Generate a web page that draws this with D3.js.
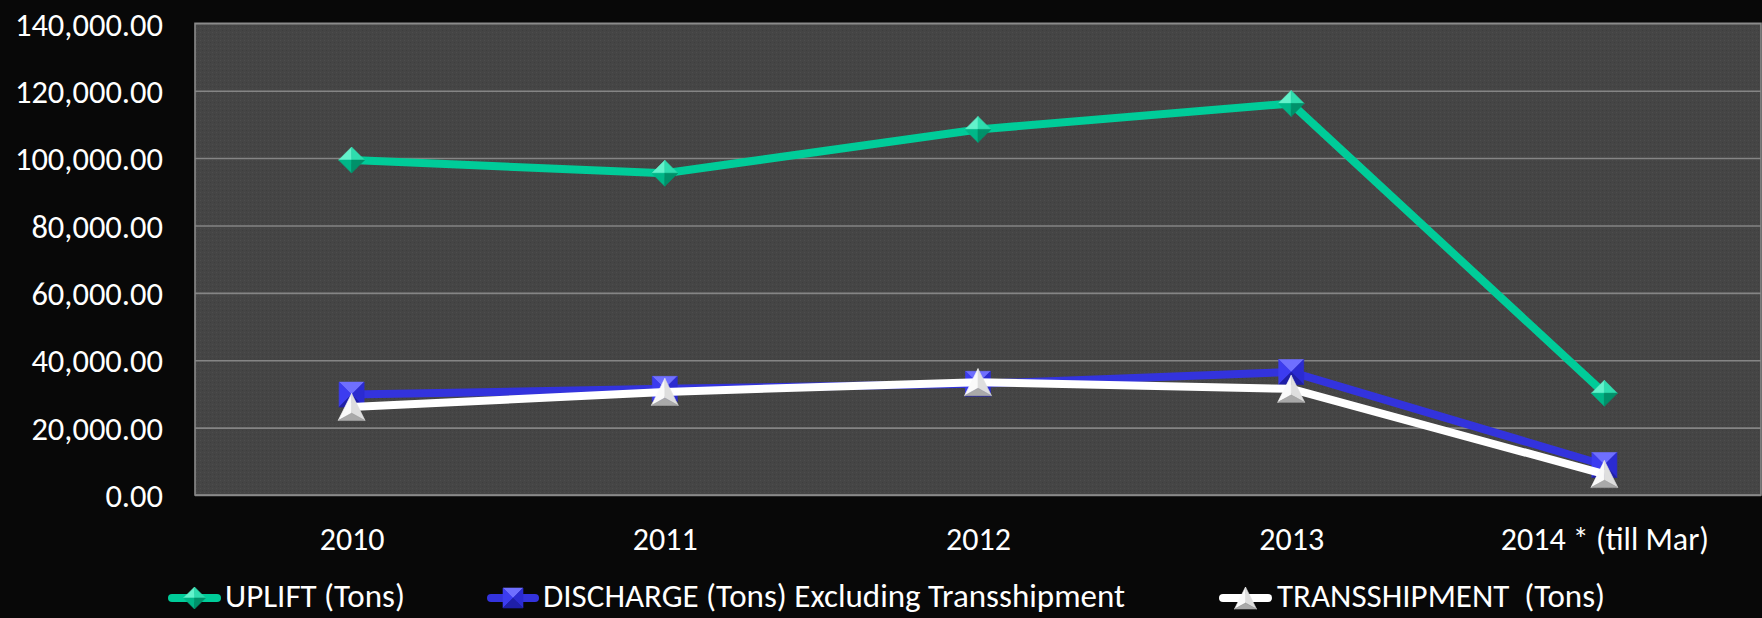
<!DOCTYPE html>
<html><head><meta charset="utf-8">
<script src="https://cdn.jsdelivr.net/npm/d3@7"></script>
<style>
html,body{margin:0;padding:0;background:#080808;}
svg{display:block;}
text{font-family:Carlito,Calibri,Lato,sans-serif;fill:#ffffff;}
</style></head>
<body><svg id="c" width="1762" height="618"></svg>
<script>
const categories = ["2010","2011","2012","2013","2014 * (till Mar)"];
const uplift = [99400, 95500, 108500, 116200, 30200];
const discharge = [29800, 31500, 33000, 36500, 8900];
const transshipment = [26100, 30600, 33500, 31500, 6200];
const yTicks = [0, 20000, 40000, 60000, 80000, 100000, 120000, 140000];
const seriesNames = ["UPLIFT (Tons)", "DISCHARGE (Tons) Excluding Transshipment", "TRANSSHIPMENT  (Tons)"];

const W = 1762, H = 618;
const plot = {left: 195, right: 1761, top: 23.3, bottom: 495};
const svg = d3.select("#c");
svg.append("rect").attr("width", W).attr("height", H).attr("fill", "#080808");

const defs = svg.append("defs");
const pat = defs.append("pattern").attr("id","dots").attr("width",4).attr("height",4).attr("patternUnits","userSpaceOnUse");
pat.append("rect").attr("width",4).attr("height",4).attr("fill","#454545");
pat.append("rect").attr("x",0).attr("y",0).attr("width",1).attr("height",1).attr("fill","#4d4d4d");
pat.append("rect").attr("x",2).attr("y",2).attr("width",1).attr("height",1).attr("fill","#3e3e3e");

const x = d3.scalePoint().domain(categories).range([plot.left, plot.right]).padding(0.5);
const y = d3.scaleLinear().domain([0, 140000]).range([plot.bottom, plot.top]);

svg.append("rect").attr("x", plot.left).attr("y", plot.top)
  .attr("width", plot.right - plot.left).attr("height", plot.bottom - plot.top)
  .attr("fill", "url(#dots)");

// gridlines
const grid = svg.append("g").attr("transform", `translate(${plot.left},0)`)
  .call(d3.axisLeft(y).tickValues(yTicks).tickSize(-(plot.right - plot.left)).tickFormat(""));
grid.select(".domain").remove();
grid.selectAll("line").attr("stroke", "#858585").attr("stroke-width", 1.6);

// border
svg.append("rect").attr("x", plot.left).attr("y", plot.top)
  .attr("width", plot.right - plot.left).attr("height", plot.bottom - plot.top)
  .attr("fill", "none").attr("stroke", "#8a8a8a").attr("stroke-width", 1.6);

// y axis labels
const yAxis = svg.append("g").attr("transform", `translate(${plot.left - 32},0)`)
  .call(d3.axisLeft(y).tickValues(yTicks).tickSize(0).tickPadding(0).tickFormat(d3.format(",.2f")));
yAxis.select(".domain").remove();
yAxis.selectAll("text").attr("font-size", 32.5).attr("fill", "#fff").attr("dy", "0.36em")
  .style("font-family", "Carlito,Calibri,Lato,sans-serif");

// x axis labels
const xAxis = svg.append("g").attr("transform", `translate(0,${plot.bottom})`)
  .call(d3.axisBottom(x).tickSize(0).tickPadding(0));
xAxis.select(".domain").remove();
xAxis.selectAll("text").attr("font-size", 32).attr("fill", "#fff").attr("y", 55).attr("dy", 0)
  .style("font-family", "Carlito,Calibri,Lato,sans-serif");

// marker facet builders
function diamondFacets(r) {
  const T=[0,-r], R=[r,0], B=[0,r], L=[-r,0], C=[0,0];
  return [
    {pts:[L,T,C], fill:"#63f2cb"},
    {pts:[T,R,C], fill:"#2fdcae"},
    {pts:[L,B,C], fill:"#00b788"},
    {pts:[R,B,C], fill:"#00916a"}
  ];
}
function squareFacets(r) {
  const TL=[-r,-r], TR=[r,-r], BR=[r,r], BL=[-r,r], C=[0,0];
  return [
    {pts:[TL,TR,C], fill:"#6f6fff"},
    {pts:[TL,BL,C], fill:"#3c3cf0"},
    {pts:[TR,BR,C], fill:"#2b2bd0"},
    {pts:[BL,BR,C], fill:"#1f1fa8"}
  ];
}
function triangleFacets(r) {
  const T=[0,-r], L=[-r,r], R=[r,r], C=[0,r*0.45];
  return [
    {pts:[T,L,C], fill:"#fafafa"},
    {pts:[T,R,C], fill:"#dedede"},
    {pts:[L,R,C], fill:"#a9a9a9"}
  ];
}
function drawMarker(g, cx, cy, facets) {
  const m = g.append("g").attr("transform", `translate(${cx},${cy})`);
  facets.forEach(f => {
    m.append("path").attr("d", "M" + f.pts.map(p => p.join(",")).join("L") + "Z")
      .attr("fill", f.fill).attr("stroke", f.fill).attr("stroke-width", 0.6).attr("stroke-linejoin","round");
  });
}

const series = [
  {name: seriesNames[0], values: uplift, color: "#00cc99", facets: () => diamondFacets(13)},
  {name: seriesNames[1], values: discharge, color: "#3333dd", facets: () => squareFacets(12.5)},
  {name: seriesNames[2], values: transshipment, color: "#ffffff", facets: () => triangleFacets(13.5)}
];

const line = d3.line().x((d, i) => x(categories[i])).y(d => y(d));
series.forEach(s => {
  const g = svg.append("g");
  g.append("path").datum(s.values).attr("d", line)
    .attr("fill", "none").attr("stroke", s.color).attr("stroke-width", 8)
    .attr("stroke-linejoin", "round");
  s.values.forEach((v, i) => drawMarker(g, x(categories[i]), y(v), s.facets()));
});

// legend
const legendItems = [
  {x0: 168, x1: 221, tx: 225},
  {x0: 487, x1: 539, tx: 543},
  {x0: 1219, x1: 1272, tx: 1277}
];
const ly = 598;
series.forEach((s, i) => {
  const li = legendItems[i];
  const g = svg.append("g");
  g.append("line").attr("x1", li.x0 + 4).attr("x2", li.x1 - 4).attr("y1", ly).attr("y2", ly)
    .attr("stroke", s.color).attr("stroke-width", 8).attr("stroke-linecap", "round");
  const cx = (li.x0 + li.x1) / 2;
  const fac = i === 0 ? diamondFacets(11) : i === 1 ? squareFacets(10) : triangleFacets(11);
  drawMarker(g, cx, ly, fac);
  g.append("text").attr("x", li.tx).attr("y", 607).attr("font-size", 33)
    .style("white-space", "pre").attr("xml:space", "preserve").text(s.name);
});
</script></body></html>
